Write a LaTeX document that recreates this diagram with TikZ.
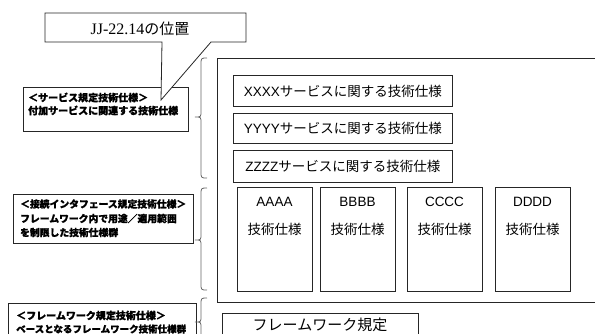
\documentclass[tikz,border=0pt]{standalone}
\usepackage{fontspec}
\setmainfont{Noto Sans CJK JP}[BoldFeatures={FakeBold=1.2}]
\newfontfamily\lserif{Liberation Serif}
\newfontfamily\lsans{Liberation Sans}
\begin{document}
\begin{tikzpicture}[x=1pt,y=-1pt,
  boxline/.style={draw=black!85,line width=0.8pt},
  rbox/.style={boxline,rectangle,inner sep=0pt,anchor=north west},
  ltext/.style={anchor=west,inner sep=0pt,font=\fontsize{10}{12}\selectfont\bfseries},
  ntext/.style={inner sep=0pt,font=\fontsize{13.5}{16}\selectfont},
  bracestyle/.style={draw=black!60,line width=0.8pt}]
\useasboundingbox (0,0) rectangle (595,333);
\fill[white] (0,0) rectangle (595,333);
\newcommand\mybrace[3]{%
  \draw[bracestyle] (207,#1) .. controls (201,#1) .. (201,#1+7) -- (201,#2-6)
    .. controls (201,#2) .. (195,#2) .. controls (201,#2) .. (201,#2+6)
    -- (201,#3-7) .. controls (201,#3) .. (207,#3);}
% left label boxes
\node[rbox,minimum width=165,minimum height=44] (s1) at (23,87) {};
\node[ltext] (s1a) at (28,97.5) {＜サービス規定技術仕様＞};
\node[ltext] (s1b) at (28,110.5) {付加サービスに関連する技術仕様};
\node[rbox,minimum width=180,minimum height=49] (s2) at (13,194) {};
\node[ltext,font=\fontsize{9.8}{12}\selectfont\bfseries] (s2a) at (20,204) {＜接続インタフェース規定技術仕様＞};
\node[ltext,font=\fontsize{9.8}{12}\selectfont\bfseries] (s2b) at (20,218.5) {フレームワーク内で用途／適用範囲};
\node[ltext,font=\fontsize{9.8}{12}\selectfont\bfseries] (s2c) at (20,232.5) {を制限した技術仕様群};
\node[rbox,minimum width=188,minimum height=60] (s3) at (8,303) {};
\node[ltext] (s3a) at (16,315.5) {＜フレームワーク規定技術仕様＞};
\node[ltext,font=\fontsize{9.5}{12}\selectfont\bfseries] (s3b) at (16,329) {ベースとなるフレームワーク技術仕様群};
% callout
\draw[boxline,fill=white] (45,13) -- (246,13) -- (246,42) -- (211,42) -- (161,100) -- (162,42) -- (45,42) -- cycle;
\node[inner sep=0pt,font=\fontsize{15}{18}\selectfont] (co) at (140,29) {{\lserif\fontsize{16}{18}\selectfont JJ-22.14}の位置};
% braces
\mybrace{58}{117}{178}
\mybrace{188}{240}{290}
\mybrace{298}{322}{346}
% large frame
\node[rbox,minimum width=400,minimum height=244] (frame) at (217,58) {};
\node[rbox,minimum width=219,minimum height=31] (xx) at (233,75) {};
\node[ntext] (xxt) at (xx.center) {{\lsans XXXX}サービスに関する技術仕様};
\node[rbox,minimum width=219,minimum height=30] (yy) at (233,113) {};
\node[ntext] (yyt) at (yy.center) {{\lsans YYYY}サービスに関する技術仕様};
\node[rbox,minimum width=219,minimum height=32] (zz) at (233,150) {};
\node[ntext] (zzt) at (zz.center) {{\lsans ZZZZ}サービスに関する技術仕様};
\foreach \nm/\xl/\lab in {a/237/AAAA,b/320/BBBB,c/407/CCCC,d/495/DDDD}{
  \node[rbox,minimum width=75,minimum height=104] (\nm) at (\xl,187) {};
  \node[ntext] (\nm t1) at (\xl+37.5,202) {\lsans\lab};
  \node[ntext] (\nm t2) at (\xl+37.5,229) {技術仕様};
}
\node[rbox,minimum width=196,minimum height=40] (fw) at (222,313) {};
\node[inner sep=0pt,font=\fontsize{15}{18}\selectfont] (fwt) at (320,325) {フレームワーク規定};
\end{tikzpicture}
\end{document}
